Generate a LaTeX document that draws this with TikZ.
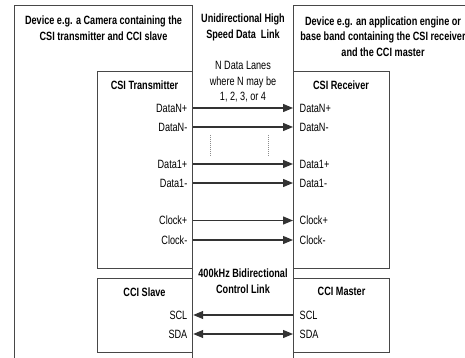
\documentclass[tikz,border=0pt]{standalone}
\usepackage{fontspec}
\setmainfont{Liberation Sans}[FakeStretch=0.76]
\usetikzlibrary{arrows.meta,calc}
\begin{document}
\begin{tikzpicture}[x=1pt,y=-1pt,
  frame/.style={draw=black!72, line width=1.2pt, rectangle, inner sep=0pt, anchor=north west},
  heading/.style={font=\fontsize{12}{15.5}\selectfont\bfseries, align=center, inner sep=0pt},
  note/.style={font=\fontsize{12}{15.5}\selectfont, align=center, inner sep=0pt},
  pinL/.style={font=\fontsize{12}{13}\selectfont, anchor=east, inner sep=0pt},
  pinR/.style={font=\fontsize{12}{13}\selectfont, anchor=west, inner sep=0pt},
  tip/.tip={Triangle[length=10pt,width=8pt]},
  lane/.style={draw=black!80, line width=1.2pt, -tip},
  ellip/.style={draw=black!45, line width=0.8pt, dash pattern=on 1pt off 1pt}
]
\useasboundingbox (0,0) rectangle (465,358);
\clip (0,0) rectangle (465,358);

% the two devices (they run on past the lower and right borders)
\node[frame, minimum width=178pt, minimum height=370pt] (camera) at (14,5) {};
\node[frame, minimum width=200pt, minimum height=370pt] (host) at (293,5) {};

% functional blocks inside the devices
\node[frame, minimum width=95pt, minimum height=197pt] (tx) at (97,71) {};
\node[frame, minimum width=95pt, minimum height=74pt] (slave) at (97,278) {};
\node[frame, minimum width=96pt, minimum height=197pt] (rx) at (293,71) {};
\node[frame, minimum width=96pt, minimum height=74pt] (master) at (293,278) {};

% device captions
\node[heading] (camcap) at (103.5,28) {Device e.g. a Camera containing the\\CSI transmitter and CCI slave};
\node[heading] (hostcap) at (383,36.5) {Device e.g. an application engine or\\base band containing the CSI receiver\\and the CCI master};

% link captions
\node[heading] (hslink) at (243,27.5) {Unidirectional High\\Speed Data\ \ Link};
\node[note] (lanes) at (243,82) {N Data Lanes\\where N may be\\1, 2, 3, or 4};
\node[heading] (cclink) at (243,281) {400kHz Bidirectional\\Control Link};

% block titles
\node[heading] at (144.5,85.5) {CSI Transmitter};
\node[heading] at (341,85.5) {CSI Receiver};
\node[heading] at (144.5,292) {CCI Slave};
\node[heading] at (341.5,291.5) {CCI Master};

% transmitter / slave pins
\node[pinL] (tDNp) at (187.5,108) {DataN+};
\node[pinL] (tDNm) at (187.5,127) {DataN-};
\node[pinL] (tD1p) at (187.5,164) {Data1+};
\node[pinL] (tD1m) at (187.5,183) {Data1-};
\node[pinL] (tCkp) at (187.5,220.5) {Clock+};
\node[pinL] (tCkm) at (187.5,240) {Clock-};
\node[pinL] (sSCL) at (187.5,315) {SCL};
\node[pinL] (sSDA) at (187.5,334) {SDA};

% receiver / master pins
\node[pinR] (rDNp) at (299.5,108) {DataN+};
\node[pinR] (rDNm) at (299.5,127) {DataN-};
\node[pinR] (rD1p) at (299.5,164) {Data1+};
\node[pinR] (rD1m) at (299.5,183) {Data1-};
\node[pinR] (rCkp) at (299.5,220.5) {Clock+};
\node[pinR] (rCkm) at (299.5,240) {Clock-};
\node[pinR] (mSCL) at (299.5,315) {SCL};
\node[pinR] (mSDA) at (299.5,334) {SDA};

% high speed lanes
\foreach \t/\r in {tDNp/rDNp, tDNm/rDNm, tD1p/rD1p, tD1m/rD1m, tCkp/rCkp, tCkm/rCkm}
  \draw[lane] (\t.east -| tx.east) -- (\r.west -| rx.west);

% lanes left out between N and 1
\draw[ellip] (210.5,135) -- (210.5,157);
\draw[ellip] (268,135) -- (268,157);

% control link
\draw[lane] (mSCL.west -| master.west) -- (sSCL.east -| slave.east);
\draw[lane, tip-tip] (sSDA.east -| slave.east) -- (mSDA.west -| master.west);
\end{tikzpicture}
\end{document}
